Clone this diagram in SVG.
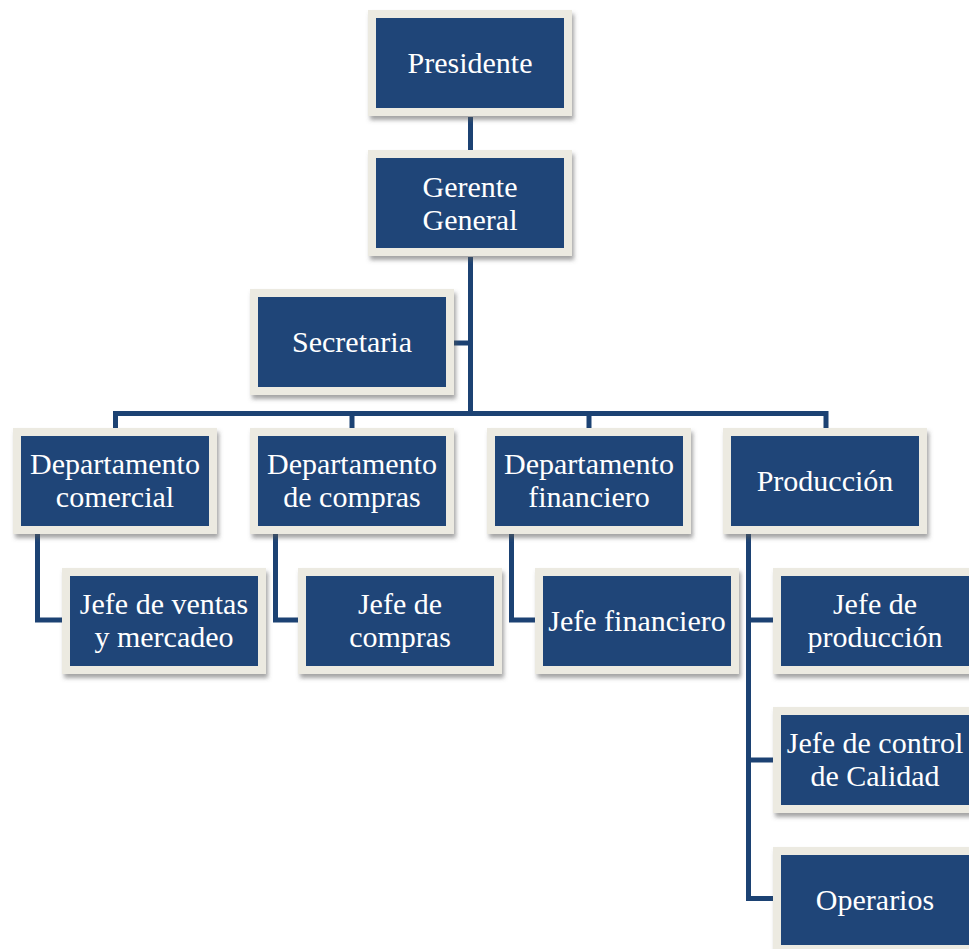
<svg xmlns="http://www.w3.org/2000/svg" width="969" height="949" viewBox="0 0 969 949">
<defs>
<filter id="sh" x="-10%" y="-10%" width="125%" height="130%">
<feDropShadow dx="2" dy="4" stdDeviation="2" flood-color="#5a5a5a" flood-opacity="0.55"/>
</filter>
<style>
.frame{fill:#eceae1;filter:url(#sh);}
.inner{fill:#1f4578;}
.t{font-family:'Liberation Serif','Times New Roman',serif;font-size:30px;fill:#ffffff;text-anchor:middle;}
.c{fill:none;stroke:#1c4273;stroke-width:5;stroke-linejoin:miter;stroke-linecap:butt;}
</style>
</defs>
<rect width="969" height="949" fill="#ffffff"/>
<g id="connectors">
<path class="c" d="M470.5 117V150"/>
<path class="c" d="M470.5 257V413.5"/>
<path class="c" d="M453 343H470.5"/>
<path class="c" d="M115.5 428V413.5H826V428"/>
<path class="c" d="M352 413.5V428"/>
<path class="c" d="M589 413.5V428"/>
<path class="c" d="M37.5 534V620H62"/>
<path class="c" d="M275.5 534V620H298"/>
<path class="c" d="M511.5 534V620H535"/>
<path class="c" d="M748.5 534V898.5H773"/>
<path class="c" d="M748.5 620H773"/>
<path class="c" d="M748.5 760H773"/>
</g>
<g id="presidente">
<rect class="frame" x="368" y="10" width="204" height="106"/>
<rect class="inner" x="376" y="18" width="188" height="90"/>
<text class="t" x="470" y="73">Presidente</text>
</g>
<g id="gerente">
<rect class="frame" x="368" y="150" width="204" height="106"/>
<rect class="inner" x="376" y="158" width="188" height="90"/>
<text class="t" x="470" y="197">Gerente</text>
<text class="t" x="470" y="230">General</text>
</g>
<g id="secretaria">
<rect class="frame" x="250" y="289" width="204" height="106"/>
<rect class="inner" x="258" y="297" width="188" height="90"/>
<text class="t" x="352" y="352">Secretaria</text>
</g>
<g id="comercial">
<rect class="frame" x="13" y="428" width="204" height="106"/>
<rect class="inner" x="21" y="436" width="188" height="90"/>
<text class="t" x="115" y="474">Departamento</text>
<text class="t" x="115" y="507">comercial</text>
</g>
<g id="compras">
<rect class="frame" x="250" y="428" width="204" height="106"/>
<rect class="inner" x="258" y="436" width="188" height="90"/>
<text class="t" x="352" y="474">Departamento</text>
<text class="t" x="352" y="507">de compras</text>
</g>
<g id="financiero">
<rect class="frame" x="487" y="428" width="204" height="106"/>
<rect class="inner" x="495" y="436" width="188" height="90"/>
<text class="t" x="589" y="474">Departamento</text>
<text class="t" x="589" y="507">financiero</text>
</g>
<g id="produccion">
<rect class="frame" x="723" y="428" width="204" height="106"/>
<rect class="inner" x="731" y="436" width="188" height="90"/>
<text class="t" x="825" y="491">Producción</text>
</g>
<g id="jefe-ventas">
<rect class="frame" x="62" y="568" width="204" height="106"/>
<rect class="inner" x="70" y="576" width="188" height="90"/>
<text class="t" x="164" y="614">Jefe de ventas</text>
<text class="t" x="164" y="647">y mercadeo</text>
</g>
<g id="jefe-compras">
<rect class="frame" x="298" y="568" width="204" height="106"/>
<rect class="inner" x="306" y="576" width="188" height="90"/>
<text class="t" x="400" y="614">Jefe de</text>
<text class="t" x="400" y="647">compras</text>
</g>
<g id="jefe-financiero">
<rect class="frame" x="535" y="568" width="204" height="106"/>
<rect class="inner" x="543" y="576" width="188" height="90"/>
<text class="t" x="637" y="631">Jefe financiero</text>
</g>
<g id="jefe-produccion">
<rect class="frame" x="773" y="568" width="204" height="106"/>
<rect class="inner" x="781" y="576" width="188" height="90"/>
<text class="t" x="875" y="614">Jefe de</text>
<text class="t" x="875" y="647">producción</text>
</g>
<g id="jefe-calidad">
<rect class="frame" x="773" y="707" width="204" height="106"/>
<rect class="inner" x="781" y="715" width="188" height="90"/>
<text class="t" x="875" y="753">Jefe de control</text>
<text class="t" x="875" y="786">de Calidad</text>
</g>
<g id="operarios">
<rect class="frame" x="773" y="847" width="204" height="106"/>
<rect class="inner" x="781" y="855" width="188" height="90"/>
<text class="t" x="875" y="910">Operarios</text>
</g>
</svg>
